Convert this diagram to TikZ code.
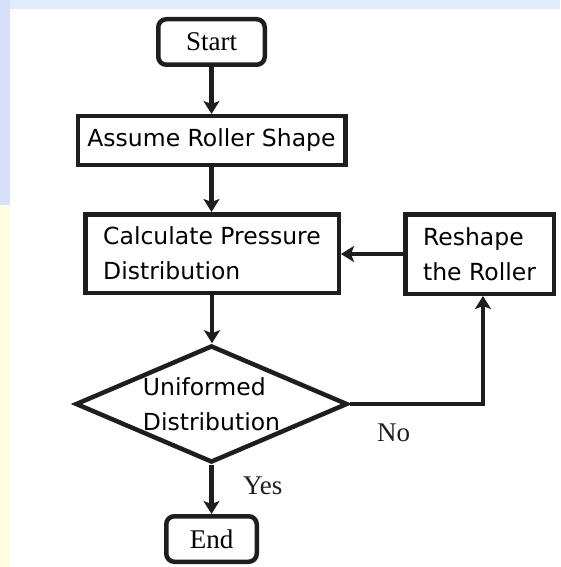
\documentclass[tikz,border=0pt]{standalone}
\usepackage{fontspec}
\setmainfont{Liberation Serif}
\newfontfamily\gothic{DejaVu Sans}
\usetikzlibrary{arrows.meta,shapes.geometric}
\definecolor{bgblue}{RGB}{214,224,250}
\definecolor{bgtop}{RGB}{222,236,252}
\definecolor{bgyellow}{RGB}{255,252,224}
\definecolor{ink}{RGB}{30,30,30}
\tikzset{
  procbox/.style={draw=ink, line width=4.5pt, inner sep=0pt, align=left,
    font=\gothic\fontsize{23.5}{35}\selectfont},
  termbox/.style={draw=ink, line width=4.5pt, rounded corners=8pt, inner sep=0pt,
    font=\fontsize{27}{32}\selectfont},
  decbox/.style={draw=ink, diamond, aspect=2.27, line width=4.5pt, inner sep=0pt,
    align=left, font=\gothic\fontsize{23.5}{35}\selectfont},
  conn/.style={draw=ink, line width=4.5pt, -{Stealth[length=13pt,width=16pt,inset=3pt]}},
  lbl/.style={inner sep=0pt, font=\fontsize{27}{32}\selectfont, text=ink}
}
\begin{document}
\begin{tikzpicture}[x=1pt,y=-1pt]
\useasboundingbox (0,0) rectangle (560,567);
% slide background
\fill[white] (0,0) rectangle (560,567);
\fill[bgtop] (0,0) rectangle (560,9);
\fill[bgblue] (0,0) rectangle (10,205);
\fill[bgyellow] (0,205) rectangle (10,567);

% nodes
\node[termbox, minimum width=106.5pt, minimum height=45.5pt] (start) at (211.5,42) {Start};
\node[procbox, minimum width=267.5pt, minimum height=48.5pt, align=center] (assume) at (211.5,140.5) {Assume Roller Shape};
\node[procbox, minimum width=253.5pt, minimum height=78.5pt] (calc) at (212,253.5) {Calculate Pressure\\Distribution};
\node[procbox, minimum width=148.5pt, minimum height=79.5pt] (reshape) at (479.5,254) {Reshape\\the Roller};
\node[decbox, minimum width=272pt, minimum height=117pt] (dec) at (211.5,404) {Uniformed\\Distribution};
\node[termbox, minimum width=90.5pt, minimum height=45.5pt] (end) at (211.5,539) {End};

% connectors
\draw[conn] (start.south) -- (start.south |- assume.north);
\draw[conn] (assume.south) -- (assume.south |- calc.north);
\draw[conn] (calc.south) -- (calc.south |- dec.north);
\draw[conn] (reshape.west) -- (reshape.west -| calc.east);
\coordinate (upx) at ([xshift=3.5pt]reshape.south);
\draw[conn] (dec.east) -| (upx);
\draw[conn] (dec.south) -- (dec.south |- end.north);

% labels
\node[lbl, anchor=base west] (no) at (377,441) {No};
\node[lbl, anchor=base west] (yes) at (243,494) {Yes};
\end{tikzpicture}
\end{document}
